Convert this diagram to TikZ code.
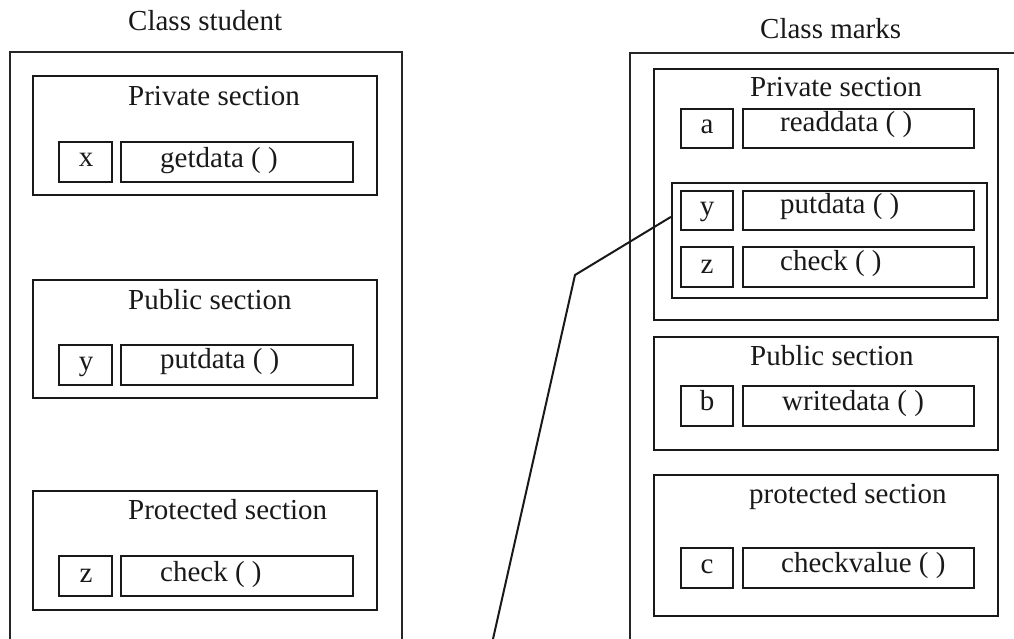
\documentclass[tikz,border=0pt]{standalone}
\usepackage{fontspec}
\setmainfont{Liberation Serif}
\usetikzlibrary{fit}
\tikzset{
  box/.style={draw=black!90, line width=2.2pt, inner sep=0pt, fit={#1}},
  outerline/.style={draw=black!85, line width=1.8pt},
  txt/.style={anchor=base west, inner sep=0pt, font=\fontsize{29}{32}\selectfont, text=black!90},
  letter/.style={anchor=base, inner sep=0pt, font=\fontsize{29}{32}\selectfont, text=black!90},
  conn/.style={draw=black!90, line width=2pt}
}
\begin{document}
\begin{tikzpicture}[x=1pt,y=-1pt]
\useasboundingbox (0,0) rectangle (1014,639);
% ---------- Class student ----------
\node[txt] (tL) at (128,31) {Class student};
\coordinate (Lbl) at (10,639);
\coordinate (Ltl) at (10,52);
\coordinate (Ltr) at (402,52);
\coordinate (Lbr) at (402,639);
\draw[outerline] (Lbl) -- (Ltl) -- (Ltr) -- (Lbr);

\node[box={(33,76) (377,195)}] (Lpriv) {};
\node[txt] (LprivT) at (128,106) {Private section};
\node[box={(59,142) (112,182)}] (Lx) {};
\node[letter] (LxT) at (86,167) {x};
\node[box={(121,142) (353,182)}] (Lget) {};
\node[txt] (LgetT) at (160,168) {getdata ( )};

\node[box={(33,280) (377,398)}] (Lpub) {};
\node[txt] (LpubT) at (128,309) {Public section};
\node[box={(59,345) (112,385)}] (Ly) {};
\node[letter] (LyT) at (86,370) {y};
\node[box={(121,345) (353,385)}] (Lput) {};
\node[txt] (LputT) at (160,368) {putdata ( )};

\node[box={(33,491) (377,610)}] (Lprot) {};
\node[txt] (LprotT) at (128,519) {Protected section};
\node[box={(59,556) (112,596)}] (Lz) {};
\node[letter] (LzT) at (86,582) {z};
\node[box={(121,556) (353,596)}] (Lchk) {};
\node[txt] (LchkT) at (160,581) {check ( )};

% ---------- Class marks ----------
\node[txt] (tR) at (760,39) {Class marks};
\coordinate (Rbl) at (630,639);
\coordinate (Rtl) at (630,53);
\coordinate (Rtr) at (1014,53);
\draw[outerline] (Rbl) -- (Rtl) -- (Rtr);

\node[box={(654,69) (998,320)}] (Rpriv) {};
\node[txt] (RprivT) at (750,97) {Private section};
\node[box={(681,109) (733,148)}] (Ra) {};
\node[letter] (RaT) at (707,134) {a};
\node[box={(743,109) (974,148)}] (Rread) {};
\node[txt] (RreadT) at (780,132) {readdata ( )};

\node[box={(672,183) (987,298)}] (Rin) {};
\node[box={(681,191) (733,230)}] (Ry) {};
\node[letter] (RyT) at (707,215) {y};
\node[box={(743,191) (974,230)}] (Rput) {};
\node[txt] (RputT) at (780,214) {putdata ( )};
\node[box={(681,247) (733,287)}] (Rz) {};
\node[letter] (RzT) at (707,273) {z};
\node[box={(743,247) (974,287)}] (Rchk) {};
\node[txt] (RchkT) at (780,270) {check ( )};

\node[box={(654,337) (998,450)}] (Rpub) {};
\node[txt] (RpubT) at (750,365) {Public section};
\node[box={(681,386) (733,426)}] (Rb) {};
\node[letter] (RbT) at (707,410) {b};
\node[box={(743,386) (974,426)}] (Rwrite) {};
\node[txt] (RwriteT) at (782,410) {writedata ( )};

\node[box={(654,475) (998,616)}] (Rprot) {};
\node[txt] (RprotT) at (749,503) {protected section};
\node[box={(681,548) (733,588)}] (Rc) {};
\node[letter] (RcT) at (707,573) {c};
\node[box={(743,548) (974,588)}] (Rcv) {};
\node[txt] (RcvT) at (781,572) {checkvalue ( )};

% ---------- connector ----------
\coordinate (bend) at (575,275);
\coordinate (lend) at (493,639);
\draw[conn] ([yshift=-35pt]Rin.north west) -- (bend) -- (lend);
\end{tikzpicture}
\end{document}
